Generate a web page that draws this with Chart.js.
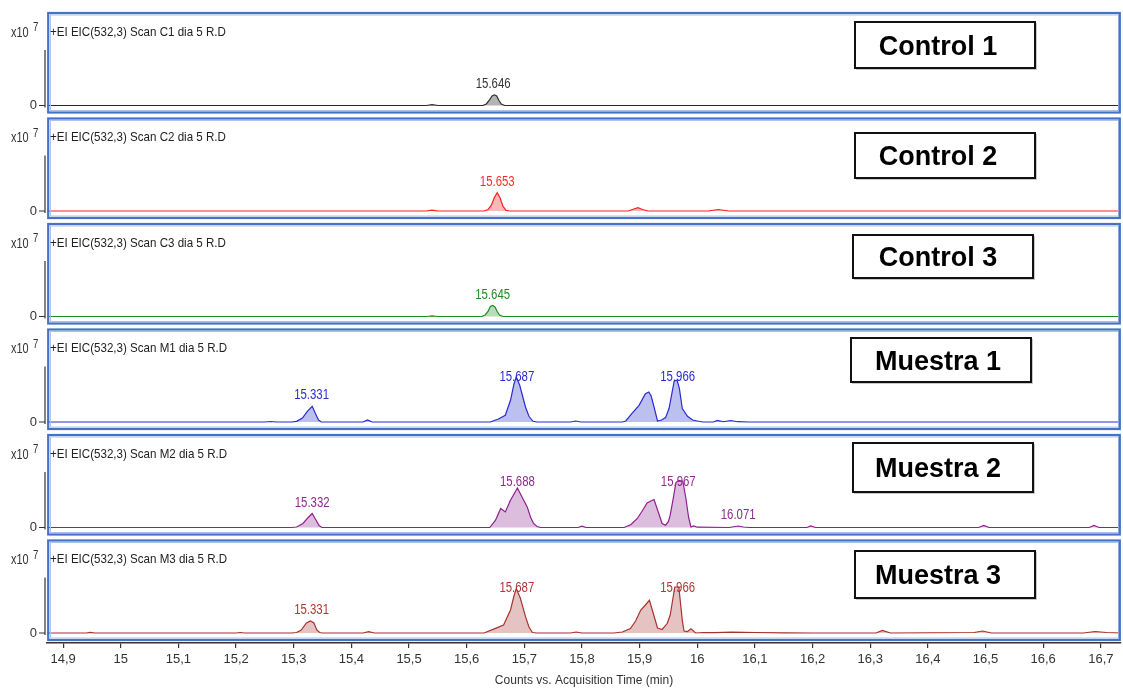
<!DOCTYPE html>
<html>
<head>
<meta charset="utf-8">
<script src="https://cdn.jsdelivr.net/npm/chart.js@4.4.1/dist/chart.umd.min.js"></script>
<style>
  html, body { margin: 0; padding: 0; background: #fff; }
  canvas { display: block; }
</style>
</head>
<body>
<canvas id="eicChart" width="1123" height="688"></canvas>
<script>
// EIC traces, time in min, counts in x10^7
const c1Time = [14.872, 15.530, 15.540, 15.550, 15.628, 15.634, 15.639, 15.644, 15.648, 15.652, 15.656, 15.660, 15.666, 16.735];
const c1Counts = [0, 0, 0.014, 0, 0, 0.027, 0.09, 0.171, 0.192, 0.171, 0.09, 0.027, 0, 0];

const c2Time = [14.872, 15.530, 15.540, 15.550, 15.630, 15.637, 15.643, 15.648, 15.653, 15.658, 15.663, 15.668, 15.675,
  15.880, 15.890, 15.897, 15.905, 15.915, 16.020, 16.030, 16.037, 16.045, 16.055, 16.735];
const c2Counts = [0, 0, 0.014, 0, 0, 0.027, 0.108, 0.242, 0.330, 0.233, 0.081, 0.014, 0,
  0, 0.036, 0.061, 0.027, 0, 0, 0.018, 0.027, 0.014, 0, 0];

const c3Time = [14.872, 15.530, 15.540, 15.550, 15.626, 15.632, 15.637, 15.641, 15.645, 15.649, 15.653, 15.657, 15.663, 16.735];
const c3Counts = [0, 0, 0.011, 0, 0, 0.027, 0.09, 0.18, 0.197, 0.171, 0.09, 0.027, 0, 0];

const m1Time = [14.872, 15.250, 15.260, 15.270, 15.296, 15.305, 15.315, 15.324, 15.332, 15.338, 15.343, 15.348,
  15.420, 15.428, 15.436, 15.641, 15.655, 15.667, 15.676, 15.682, 15.686, 15.692, 15.702, 15.708, 15.715, 15.722,
  15.780, 15.789, 15.798, 15.870, 15.876, 15.886, 15.899, 15.910, 15.916, 15.920, 15.925, 15.931, 15.938, 15.945,
  15.951, 15.960, 15.965, 15.969, 15.974, 15.983, 15.992, 16.000, 16.010, 16.028, 16.035, 16.045, 16.058, 16.070,
  16.090, 16.735];
const m1Counts = [0, 0, 0.009, 0, 0, 0.011, 0.072, 0.197, 0.282, 0.144, 0.036, 0,
  0, 0.036, 0, 0, 0.054, 0.12, 0.39, 0.682, 0.808, 0.659, 0.269, 0.102, 0.013, 0,
  0, 0.018, 0, 0, 0.018, 0.144, 0.3, 0.51, 0.539, 0.467, 0.269, 0.018, 0.036, 0.079,
  0.241, 0.736, 0.749, 0.6, 0.241, 0.102, 0.036, 0.018, 0, 0, 0.027, 0.005, 0.027, 0.005,
  0, 0];

const m2Time = [14.872, 15.296, 15.305, 15.316, 15.325, 15.332, 15.338, 15.344, 15.349,
  15.640, 15.650, 15.659, 15.667, 15.676, 15.688, 15.696, 15.705, 15.711, 15.716, 15.722, 15.728,
  15.793, 15.800, 15.807, 15.873, 15.885, 15.896, 15.905, 15.913, 15.925, 15.932, 15.939, 15.945, 15.950,
  15.953, 15.958, 15.963, 15.968, 15.975, 15.980, 15.985, 15.989, 15.994, 16.000,
  16.055, 16.063, 16.071, 16.080, 16.090, 16.190, 16.197, 16.205, 16.488, 16.497, 16.506,
  16.680, 16.688, 16.697, 16.735];
const m2Counts = [0, 0, 0.009, 0.072, 0.18, 0.251, 0.144, 0.036, 0,
  0, 0.131, 0.341, 0.28, 0.49, 0.711, 0.549, 0.37, 0.18, 0.072, 0.018, 0,
  0, 0.023, 0, 0, 0.054, 0.162, 0.305, 0.442, 0.503, 0.287, 0.072, 0.041, 0.108,
  0.221, 0.503, 0.808, 0.844, 0.826, 0.539, 0.18, 0.009, 0.027, 0.005,
  0, 0.014, 0.027, 0.009, 0, 0, 0.027, 0, 0, 0.036, 0,
  0, 0.036, 0, 0];

const m3Time = [14.872, 14.940, 14.947, 14.955, 15.200, 15.207, 15.215, 15.296, 15.305, 15.313, 15.322, 15.329,
  15.335, 15.340, 15.345, 15.350, 15.420, 15.430, 15.440, 15.630, 15.650, 15.664, 15.676, 15.682, 15.686, 15.693,
  15.702, 15.708, 15.714, 15.722, 15.780, 15.790, 15.800, 15.855, 15.870, 15.884, 15.893, 15.902, 15.910, 15.917,
  15.925, 15.931, 15.939, 15.948, 15.953, 15.957, 15.961, 15.968, 15.974, 15.977, 15.983, 15.989, 15.997, 16.010,
  16.030, 16.060, 16.100, 16.150, 16.200, 16.310, 16.321, 16.335, 16.480, 16.495, 16.510, 16.670, 16.690, 16.710, 16.735];
const m3Counts = [0, 0, 0.011, 0, 0, 0.009, 0, 0, 0.009, 0.054, 0.18, 0.215,
  0.18, 0.054, 0.009, 0, 0, 0.023, 0, 0, 0.084, 0.144, 0.413, 0.664, 0.797, 0.628,
  0.293, 0.108, 0.009, 0, 0, 0.018, 0, 0, 0.018, 0.079, 0.215, 0.413, 0.503, 0.587,
  0.305, 0.09, 0.063, 0.174, 0.323, 0.575, 0.826, 0.826, 0.228, 0.036, 0.027, 0.075, 0, 0.009,
  0.005, 0.014, 0.009, 0.004, 0, 0, 0.045, 0, 0.009, 0.036, 0, 0, 0.027, 0.009, 0];

// labelled peaks (retention time, min)
const c1Peaks = [15.646];
const c2Peaks = [15.653];
const c3Peaks = [15.645];
const m1Peaks = [15.331, 15.687, 15.966];
const m2Peaks = [15.332, 15.688, 15.967, 16.071];
const m3Peaks = [15.331, 15.687, 15.966];

const sampleNames = ['Control 1', 'Control 2', 'Control 3', 'Muestra 1', 'Muestra 2', 'Muestra 3'];
const scanIds = ['C1', 'C2', 'C3', 'M1', 'M2', 'M3'];
const xTicks = [14.9, 15, 15.1, 15.2, 15.3, 15.4, 15.5, 15.6, 15.7, 15.8, 15.9, 16, 16.1, 16.2, 16.3, 16.4, 16.5, 16.6, 16.7];

const panelTimes = [c1Time, c2Time, c3Time, m1Time, m2Time, m3Time];
const panelCounts = [c1Counts, c2Counts, c3Counts, m1Counts, m2Counts, m3Counts];
const panelPeaks = [c1Peaks, c2Peaks, c3Peaks, m1Peaks, m2Peaks, m3Peaks];

const lineColors = ['#2b2b2b', '#ff1f1f', '#1f8c1f', '#2a2ad6', '#8e1f8e', '#a8322f'];
const fillColors = ['#b4b4b4', '#f9b9b9', '#b9dcb9', '#bcc0ee', '#dcbddd', '#e5c3c3'];
const labelColors = ['#333333', '#ff2a2a', '#1f8c1f', '#2a2ad6', '#8e2a8e', '#b03535'];

// name boxes: left edge, offset from panel top, height
const boxLeft = [855, 855, 853, 851, 853, 855];
const boxTop = [12, 17.5, 14, 11.5, 11, 13.5];
const boxH = [46, 45, 43, 44, 49, 47];

const SANS = '"Liberation Sans", Arial, sans-serif';

function squeezeText(ctx, s, x, y, size, color, sx, align, weight) {
  ctx.save();
  ctx.font = (weight || 'normal') + ' ' + size + 'px ' + SANS;
  ctx.fillStyle = color;
  ctx.textBaseline = 'middle';
  ctx.textAlign = 'left';
  const w = ctx.measureText(s).width * sx;
  const x0 = align === 'center' ? x - w / 2 : (align === 'right' ? x - w : x);
  ctx.translate(x0, y);
  ctx.scale(sx, 1);
  ctx.fillText(s, 0, 0);
  ctx.restore();
}

const decor = {
  id: 'decor',
  afterDatasetsDraw(chart) {
    const ctx = chart.ctx;
    const ca = chart.chartArea;
    const xs = chart.scales.x;
    for (let i = 0; i < 6; i++) {
      const ys = chart.scales['y' + i];
      const top = ys.top, bottom = ys.bottom;
      const base = ys.getPixelForValue(0);

      // panel frame
      ctx.save();
      ctx.strokeStyle = '#aac3ea';
      ctx.lineWidth = 1;
      ctx.strokeRect(ca.left + 3.5, top + 5, ca.right - ca.left - 6, bottom - top - 10);
      ctx.strokeStyle = '#4472c4';
      ctx.lineWidth = 2.2;
      ctx.strokeRect(ca.left + 1.2, top + 3, ca.right - ca.left - 2.4, bottom - top - 6);

      // short y axis with zero tick
      ctx.strokeStyle = '#333';
      ctx.lineWidth = 1.2;
      ctx.beginPath();
      ctx.moveTo(45, top + 40);
      ctx.lineTo(45, base + 2);
      ctx.moveTo(39, base);
      ctx.lineTo(45, base);
      ctx.stroke();
      ctx.restore();

      squeezeText(ctx, 'x10', 11, top + 23, 14, '#333', 0.78, 'left');
      squeezeText(ctx, '7', 33, top + 18, 12, '#333', 0.8, 'left');
      squeezeText(ctx, '+EI EIC(532,3) Scan ' + scanIds[i] + ' dia 5 R.D', 50, top + 22, 13, '#222', 0.89, 'left');

      // peak labels
      panelPeaks[i].forEach(t => {
        let peak = 0;
        panelTimes[i].forEach((tt, j) => {
          if (Math.abs(tt - t) < 0.008) peak = Math.max(peak, panelCounts[i][j]);
        });
        const y = Math.max(top + 50, ys.getPixelForValue(peak) - 11);
        squeezeText(ctx, t.toFixed(3), xs.getPixelForValue(t), y, 15, labelColors[i], 0.76, 'center');
      });

      // sample name box
      const bx = boxLeft[i], by = top + boxTop[i], bw = 180, bh = boxH[i];
      ctx.save();
      ctx.fillStyle = '#c8c8c8';
      ctx.fillRect(bx + 1, by + 1, bw + 1, bh + 1);
      ctx.fillStyle = '#fff';
      ctx.fillRect(bx, by, bw, bh);
      ctx.strokeStyle = '#111';
      ctx.lineWidth = 2;
      ctx.strokeRect(bx, by, bw, bh);
      ctx.restore();
      squeezeText(ctx, sampleNames[i], 938, by + bh / 2 + 2.5, 27, '#000', 1, 'center', 'bold');
    }
  }
};

const scales = {
  x: {
    type: 'linear',
    min: 14.872,
    max: 16.735,
    afterBuildTicks: s => { s.ticks = xTicks.map(v => ({ value: v })); },
    afterFit: s => { s.height = 45; },
    ticks: {
      callback: v => String(Math.round(v * 10) / 10).replace('.', ','),
      font: { family: SANS, size: 13 },
      color: '#333',
      padding: 4,
      maxRotation: 0,
      autoSkip: false
    },
    grid: { drawOnChartArea: false, tickLength: 5, color: '#333', lineWidth: 1.2 },
    border: { color: '#333', width: 1.5 },
    title: {
      display: true,
      text: 'Counts vs. Acquisition Time (min)',
      font: { family: SANS, size: 12 },
      color: '#333',
      padding: 0
    }
  }
};
// stacked panels: last declared sits on top
for (let i = 5; i >= 0; i--) {
  scales['y' + i] = {
    type: 'linear',
    position: 'left',
    stack: 'eic',
    stackWeight: 1,
    min: -0.1795,
    max: 1.7145,
    afterBuildTicks: s => { s.ticks = [{ value: 0 }]; },
    afterFit: s => { s.width = 47; s.paddingTop = 0; s.paddingBottom = 0; },
    ticks: { font: { family: SANS, size: 13 }, color: '#333', padding: 10 },
    grid: { display: false, drawTicks: false },
    border: { display: false }
  };
}

const ctx = document.getElementById('eicChart').getContext('2d');
const eicChart = new Chart(ctx, {
  type: 'line',
  data: {
    datasets: panelTimes.map((times, i) => ({
      label: sampleNames[i],
      data: times.map((t, j) => ({ x: t, y: panelCounts[i][j] })),
      yAxisID: 'y' + i,
      borderColor: lineColors[i],
      backgroundColor: fillColors[i],
      borderWidth: 1.2,
      fill: 'origin',
      pointRadius: 0,
      tension: 0
    }))
  },
  options: {
    responsive: false,
    animation: false,
    devicePixelRatio: 1,
    layout: { padding: { top: 10, right: 2, left: 0, bottom: 0 } },
    plugins: { legend: { display: false }, tooltip: { enabled: false } },
    scales: scales
  },
  plugins: [decor]
});
</script>
</body>
</html>
